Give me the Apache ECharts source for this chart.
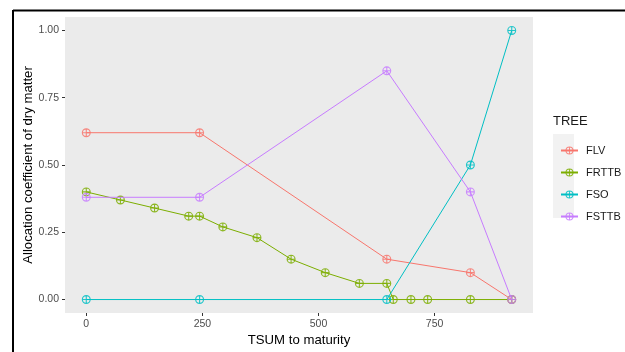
<!DOCTYPE html>
<html>
<head>
<meta charset="utf-8">
<script src="https://cdn.jsdelivr.net/npm/echarts@6/dist/echarts.min.js"></script>
<style>
  html, body { margin: 0; padding: 0; background: #fff; }
  #chart { width: 625px; height: 352px; }
</style>
</head>
<body>
<div id="chart"></div>
<script>
// Allocation of dry matter per organ against temperature sum to maturity
const flvX = [0, 244, 647, 827, 916];
const flvY = [0.62, 0.62, 0.15, 0.10, 0.00];

const frttbX = [0, 73.5, 147, 220.5, 244, 294, 367.5, 441, 514.5, 588, 647, 661, 699, 735, 827, 916];
const frttbY = [0.40, 0.37, 0.34, 0.31, 0.31, 0.27, 0.23, 0.15, 0.10, 0.06, 0.06, 0.00, 0.00, 0.00, 0.00, 0.00];

const fsoX = [0, 244, 647, 827, 916];
const fsoY = [0.00, 0.00, 0.00, 0.50, 1.00];

const fsttbX = [0, 244, 647, 827, 916];
const fsttbY = [0.38, 0.38, 0.85, 0.40, 0.00];

const xTicks = [0, 250, 500, 750];
const yTicks = [0, 0.25, 0.5, 0.75, 1.0];

const seriesNames = ['FLV', 'FRTTB', 'FSO', 'FSTTB'];
const seriesColors = ['#F8766D', '#7CAE00', '#00BFC4', '#C77CFF'];

// circle-with-plus marker (ring + cross drawn as filled shapes)
const crossCircle = 'path://M0,10 A10,10 0 1,1 20,10 A10,10 0 1,1 0,10 Z ' +
  'M2.6,10 A7.4,7.4 0 1,0 17.4,10 A7.4,7.4 0 1,0 2.6,10 Z ' +
  'M8.8,2.6 L11.2,2.6 L11.2,17.4 L8.8,17.4 Z ' +
  'M2.6,8.8 L17.4,8.8 L17.4,11.2 L2.6,11.2 Z';

function pairs(xs, ys) {
  return xs.map((x, i) => [x, ys[i]]);
}

const seriesData = [pairs(flvX, flvY), pairs(frttbX, frttbY), pairs(fsoX, fsoY), pairs(fsttbX, fsttbY)];

const xMin = -45.8, xMax = 961.8;
const yMin = -0.05, yMax = 1.05;

const chart = echarts.init(document.getElementById('chart'), null, { renderer: 'canvas' });

chart.setOption({
  animation: false,
  backgroundColor: '#FFFFFF',
  textStyle: { fontFamily: 'Liberation Sans, Arial, sans-serif' },
  grid: {
    left: 65, top: 17, width: 468, height: 296,
    show: true, backgroundColor: '#EBEBEB', borderWidth: 0,
    containLabel: false
  },
  xAxis: {
    type: 'value', min: xMin, max: xMax,
    name: 'TSUM to maturity', nameLocation: 'middle', nameGap: 21,
    nameMoveOverlap: false,
    nameTextStyle: { color: '#000', fontSize: 13.2 },
    axisLine: { show: false, onZero: false },
    splitLine: { show: false },
    axisTick: { show: true, length: 3, customValues: xTicks, lineStyle: { color: '#333', width: 1 } },
    axisLabel: {
      customValues: xTicks, color: '#4D4D4D', fontSize: 10.5, margin: 6
    }
  },
  yAxis: {
    type: 'value', min: yMin, max: yMax,
    name: 'Allocation coefficient of dry matter', nameLocation: 'middle', nameGap: 30,
    nameMoveOverlap: false,
    nameTextStyle: { color: '#000', fontSize: 13.2 },
    axisLine: { show: false, onZero: false },
    splitLine: { show: false },
    axisTick: { show: true, length: 3, customValues: yTicks, lineStyle: { color: '#333', width: 1 } },
    axisLabel: {
      customValues: yTicks, color: '#4D4D4D', fontSize: 10.5, margin: 6,
      formatter: v => v.toFixed(2)
    }
  },
  legend: {
    orient: 'vertical', left: 555, top: 140,
    itemWidth: 17, itemHeight: 10, itemGap: 11,
    selectedMode: false,
    data: seriesNames,
    textStyle: { color: '#1A1A1A', fontSize: 11, padding: [0, 0, 0, 3] }
  },
  graphic: [
    { type: 'rect', left: 553, top: 134, shape: { width: 21, height: 84 }, style: { fill: '#F2F2F2' }, z: -1 },
    { type: 'text', left: 553, top: 115, style: { text: 'TREE', fill: '#1A1A1A', font: '13px Liberation Sans, Arial, sans-serif' } },
    { type: 'line', shape: { x1: 13, y1: 10.5, x2: 625, y2: 10.5 }, style: { stroke: '#000', lineWidth: 2 } },
    { type: 'line', shape: { x1: 13, y1: 10, x2: 13, y2: 352 }, style: { stroke: '#000', lineWidth: 2 } }
  ],
  series: seriesNames.map((name, i) => ({
    name: name,
    type: 'line',
    data: seriesData[i],
    symbol: crossCircle,
    symbolSize: 9,
    showSymbol: true,
    color: seriesColors[i],
    lineStyle: { color: seriesColors[i], width: 1 },
    itemStyle: { color: seriesColors[i], opacity: 0.85 },
    z: 2 + i
  }))
});
</script>
</body>
</html>
